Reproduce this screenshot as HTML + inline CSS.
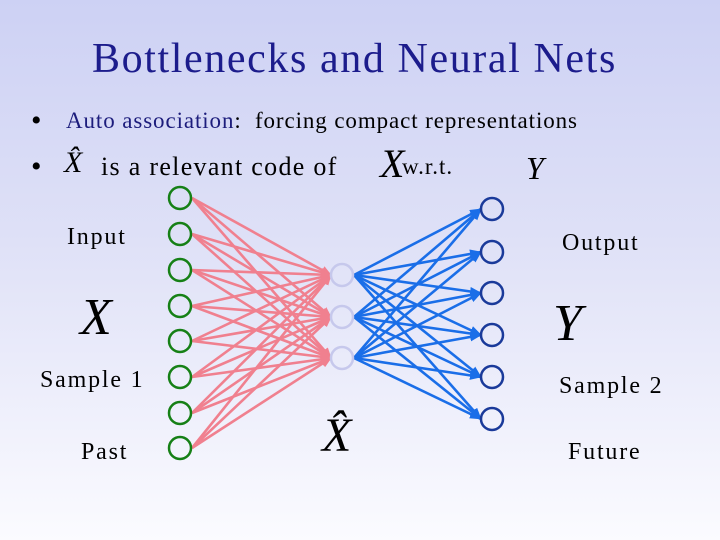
<!DOCTYPE html><html><head><style>
body{margin:0;width:720px;height:540px;overflow:hidden;background:linear-gradient(#cdd1f4 0%,#dfe1f7 45%,#fbfbff 100%);font-family:"Liberation Serif",serif;position:relative}
.t{position:absolute;white-space:nowrap}
.l{font-size:24px;letter-spacing:1.8px}
</style></head><body>
<div class="t" style="left:92px;top:35px;font-size:42px;letter-spacing:1.6px;color:#1c1c8c">Bottlenecks and Neural Nets</div>
<div class="t" style="left:31px;top:104px;font-size:30px">•</div>
<div class="t" style="left:66px;top:108px;font-size:23px;letter-spacing:0.9px"><span style="color:#1c1c7c">Auto association</span>:&nbsp; forcing compact representations</div>
<div class="t" style="left:31px;top:150px;font-size:30px">•</div>
<div class="t" style="left:64px;top:146px;font-size:30px;font-style:italic">X̂</div>
<div class="t" style="left:101px;top:152px;font-size:26px;letter-spacing:1.3px">is a relevant code of</div>
<div class="t" style="left:380px;top:140px;font-size:40px;font-style:italic">X</div>
<div class="t" style="left:402px;top:154px;font-size:23px;letter-spacing:1px">w.r.t.</div>
<div class="t" style="left:526px;top:150px;font-size:32px;font-style:italic">Y</div>
<div class="t l" style="left:67px;top:224px">Input</div>
<div class="t l" style="left:562px;top:230px">Output</div>
<div class="t" style="left:80px;top:288px;font-size:52px;font-style:italic">X</div>
<div class="t" style="left:553px;top:294px;font-size:52px;font-style:italic">Y</div>
<div class="t l" style="left:40px;top:367px">Sample 1</div>
<div class="t l" style="left:559px;top:373px">Sample 2</div>
<div class="t l" style="left:81px;top:439px">Past</div>
<div class="t l" style="left:568px;top:439px">Future</div>
<div class="t" style="left:322px;top:408px;font-size:48px;font-style:italic">X̂</div>
<svg width="720" height="540" style="position:absolute;left:0;top:0">
<defs>
<marker id="p" markerWidth="11" markerHeight="9" refX="10" refY="4.5" orient="auto" markerUnits="userSpaceOnUse"><path d="M0,0L11,4.5L0,9z" fill="#f0808f"/></marker>
<marker id="b" markerWidth="12" markerHeight="9" refX="11" refY="4.5" orient="auto" markerUnits="userSpaceOnUse"><path d="M0,0L12,4.5L0,9z" fill="#1a6ee8"/></marker>
</defs>
<g id="g"></g>
</svg>
<script>
var s=document.getElementById('g'),h='';
var I=[198,234,270,306,341,377,413,448],H=[275,317,358],O=[209,252,293,335,377,419];
I.forEach(function(y){H.forEach(function(z){h+='<line x1="192" y1="'+y+'" x2="331" y2="'+z+'" stroke="#f0808f" stroke-width="2.6" marker-end="url(#p)"/>';});});
H.forEach(function(z){O.forEach(function(y){h+='<line x1="354" y1="'+z+'" x2="481" y2="'+y+'" stroke="#1a6ee8" stroke-width="2.6" marker-end="url(#b)"/>';});});
I.forEach(function(y){h+='<circle cx="180" cy="'+y+'" r="11" fill="none" stroke="#168016" stroke-width="2.5"/>';});
H.forEach(function(y){h+='<circle cx="342" cy="'+y+'" r="11" fill="none" stroke="#c6c8ec" stroke-width="2.5"/>';});
O.forEach(function(y){h+='<circle cx="492" cy="'+y+'" r="11" fill="none" stroke="#1a3a9a" stroke-width="2.5"/>';});
s.innerHTML=h;
</script>
</body></html>
